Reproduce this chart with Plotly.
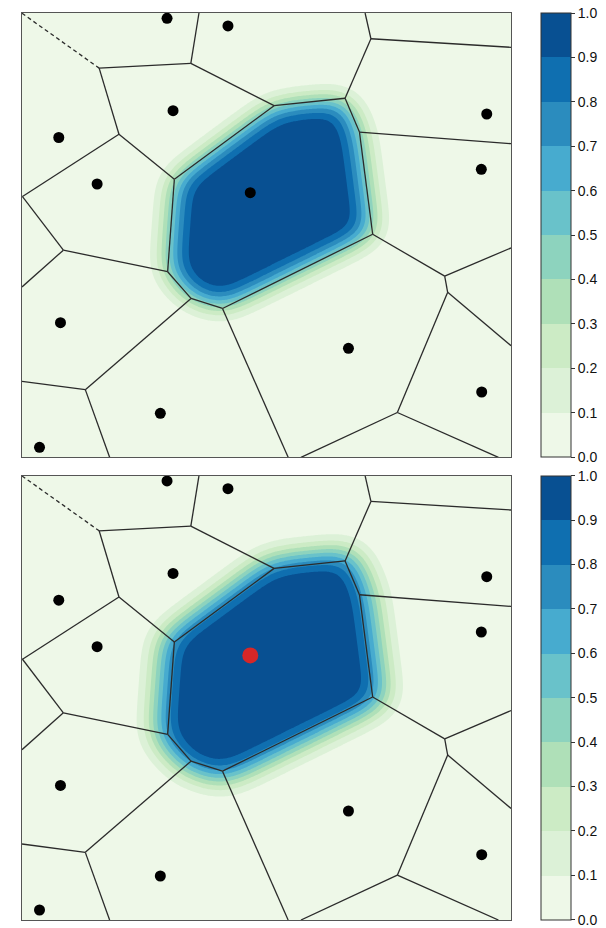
import numpy as np
import plotly.graph_objects as go

# ---------------- data ----------------
# Voronoi generators (data units: x in [0,1], y in [0,Y_MAX])
site_x = [0.2966, 0.4212, 0.3089, 0.0752, 0.9504, 0.1536, 0.4668, 0.9393,
          0.0787, 0.6676, 0.2829, 0.9401, 0.0358]
site_y = [1.0146, 0.9968, 0.8010, 0.7391, 0.7934, 0.6316, 0.6115, 0.6656,
          0.3111, 0.2519, 0.1017, 0.1509, 0.0231]
# generators lying outside the plotting window (their cells are visible)
hidden_x = [0.972, 1.104, 0.833, -0.083]
hidden_y = [1.107, 0.323, -0.063, 0.472]
target = 6                      # highlighted cell
dashed_pairs = [(0, 3)]         # edge drawn dashed
level_values = [0.0, 0.1, 0.2, 0.3, 0.4, 0.5, 0.6, 0.7, 0.8, 0.9, 1.0]
tick_labels = ["0.0", "0.1", "0.2", "0.3", "0.4", "0.5", "0.6", "0.7", "0.8", "0.9", "1.0"]
band_colors = ["#eef8e8", "#dcf1d7", "#ccebc5", "#afe0b8", "#8dd3be",
               "#69c2ca", "#47abcf", "#2b8cbe", "#0f6fb0", "#085092"]

X_MAX = 1.0
Y_MAX = 1.0268
PX_PER_UNIT = 489.0
SIGMA_PX = [15.0, 16.0]     # smoothing width per panel
DILATE_PX = [0.0, 12.0]     # outward shift per panel

sx = np.array(site_x + hidden_x)
sy = np.array(site_y + hidden_y)
S = np.stack([sx, sy], axis=1)
N = len(S)

# ---------------- Voronoi by half-plane clipping ----------------
def clip(poly, a, b):
    out = []
    n = len(poly)
    for k in range(n):
        p = poly[k]
        q = poly[(k + 1) % n]
        fp = a @ p - b
        fq = a @ q - b
        if fp <= 0:
            out.append(p)
        if fp * fq < 0:
            t = fp / (fp - fq)
            out.append(p + t * (q - p))
    return out

box = [np.array([0.0, 0.0]), np.array([X_MAX, 0.0]),
       np.array([X_MAX, Y_MAX]), np.array([0.0, Y_MAX])]

solid_x, solid_y, dash_x, dash_y = [], [], [], []
for i in range(N):
    poly = list(box)
    cons = {}
    for j in range(N):
        if j == i:
            continue
        a = 2 * (S[j] - S[i])
        b = S[j] @ S[j] - S[i] @ S[i]
        cons[j] = (a, b)
        poly = clip(poly, a, b)
        if len(poly) == 0:
            break
    n = len(poly)
    for k in range(n):
        p = poly[k]
        q = poly[(k + 1) % n]
        if np.hypot(*(q - p)) < 1e-9:
            continue
        for j, (a, b) in cons.items():
            sc = np.linalg.norm(a)
            if abs(a @ p - b) / sc < 1e-7 and abs(a @ q - b) / sc < 1e-7:
                if i < j:
                    if (i, j) in dashed_pairs or (j, i) in dashed_pairs:
                        dash_x += [p[0], q[0], None]
                        dash_y += [p[1], q[1], None]
                    else:
                        solid_x += [p[0], q[0], None]
                        solid_y += [p[1], q[1], None]
                break

# ---------------- smoothed cell indicator ----------------
nx = 320
ny = int(round(nx * Y_MAX / X_MAX))
gx = np.linspace(0, X_MAX, nx)
gy = np.linspace(0, Y_MAX, ny)
GX, GY = np.meshgrid(gx, gy)
g = np.full(GX.shape, np.inf)
c = target
for j in range(N):
    if j == c:
        continue
    d = S[c] - S[j]
    m = (S[c] + S[j]) / 2
    h = ((GX - m[0]) * d[0] + (GY - m[1]) * d[1]) / np.linalg.norm(d)
    g = np.minimum(g, h)

step = X_MAX / (nx - 1)

def blur(arr, sigma):
    r = int(4 * sigma) + 1
    t = np.arange(-r, r + 1)
    k = np.exp(-0.5 * (t / sigma) ** 2)
    k /= k.sum()
    arr = np.apply_along_axis(lambda v: np.convolve(v, k, mode="same"), 0, arr)
    arr = np.apply_along_axis(lambda v: np.convolve(v, k, mode="same"), 1, arr)
    return arr

fields = []
for p in range(2):
    ind = (g >= -DILATE_PX[p] / PX_PER_UNIT).astype(float)
    fields.append(blur(ind, SIGMA_PX[p] / PX_PER_UNIT / step))

# ---------------- figure ----------------
fig = go.Figure()
contour_scale = [[k / 9, band_colors[k]] for k in range(10)]
bar_scale = []
for k in range(10):
    bar_scale.append([level_values[k], band_colors[k]])
    bar_scale.append([level_values[k + 1], band_colors[k]])

FIG_W, FIG_H = 606, 928
ML, MR, MT, MB = 22, 95, 13, 8
PLOT_W = FIG_W - ML - MR
PLOT_H = FIG_H - MT - MB
H_FRAC = 444.3 / PLOT_H
domains = [[1 - H_FRAC, 1.0], [0.0, H_FRAC]]
CB_X = (541 - ML) / PLOT_W

for p in range(2):
    xa = "x" if p == 0 else "x2"
    ya = "y" if p == 0 else "y2"
    fig.add_trace(go.Contour(
        x=gx, y=gy, z=fields[p], xaxis=xa, yaxis=ya,
        contours=dict(start=0.1, end=0.9, size=0.1, coloring="fill", showlines=False),
        line=dict(width=0), colorscale=contour_scale, showscale=False,
        hoverinfo="skip"))
    fig.add_trace(go.Scatter(
        x=solid_x, y=solid_y, xaxis=xa, yaxis=ya, mode="lines",
        line=dict(color="#2b2b2b", width=1.3), hoverinfo="skip", showlegend=False))
    fig.add_trace(go.Scatter(
        x=dash_x, y=dash_y, xaxis=xa, yaxis=ya, mode="lines",
        line=dict(color="#2b2b2b", width=1.3, dash="4px,3px"), hoverinfo="skip",
        showlegend=False))
    if p == 0:
        px_ = site_x
        py_ = site_y
    else:
        px_ = [v for i, v in enumerate(site_x) if i != target]
        py_ = [v for i, v in enumerate(site_y) if i != target]
    fig.add_trace(go.Scatter(
        x=px_, y=py_, xaxis=xa, yaxis=ya, mode="markers",
        marker=dict(color="black", size=11), hoverinfo="skip", showlegend=False))
    if p == 1:
        fig.add_trace(go.Scatter(
            x=[site_x[target]], y=[site_y[target]], xaxis=xa, yaxis=ya,
            mode="markers", marker=dict(color="#d62728", size=16),
            hoverinfo="skip", showlegend=False))
    # colour bar carrier (points outside the visible range)
    fig.add_trace(go.Scatter(
        x=[0.5, 0.5], y=[-5, -5], xaxis=xa, yaxis=ya, mode="markers",
        marker=dict(color=[0, 1], cmin=0, cmax=1, colorscale=bar_scale, size=1,
                    showscale=True,
                    colorbar=dict(
                        x=CB_X, xanchor="left", xpad=0,
                        y=domains[p][1], yanchor="top", ypad=0,
                        len=H_FRAC, lenmode="fraction",
                        thickness=30, thicknessmode="pixels",
                        outlinewidth=1, outlinecolor="#333",
                        tickmode="array", tickvals=level_values, ticktext=tick_labels,
                        ticklabeloverflow="allow",
                        ticks="outside", ticklen=4, tickwidth=1, tickcolor="#333",
                        tickfont=dict(family="Liberation Sans", size=14, color="#111"))),
        hoverinfo="skip", showlegend=False))

ax = dict(range=[0, X_MAX], showgrid=False, zeroline=False, showticklabels=False,
          ticks="", showline=True, mirror=True, linecolor="#555", linewidth=1)
ay = dict(range=[0, Y_MAX], showgrid=False, zeroline=False, showticklabels=False,
          ticks="", showline=True, mirror=True, linecolor="#555", linewidth=1)
fig.update_layout(
    width=FIG_W, height=FIG_H,
    margin=dict(l=ML, r=MR, t=MT, b=MB, autoexpand=False),
    paper_bgcolor="white", plot_bgcolor="white",
    showlegend=False,
    xaxis=dict(ax, domain=[0, 1], anchor="y"),
    yaxis=dict(ay, domain=domains[0], anchor="x"),
    xaxis2=dict(ax, domain=[0, 1], anchor="y2"),
    yaxis2=dict(ay, domain=domains[1], anchor="x2"),
)
fig.write_html("out.html",
               config={"displayModeBar": False, "staticPlot": True},
               post_script="document.body.style.margin='0';document.body.style.overflow='hidden';")
